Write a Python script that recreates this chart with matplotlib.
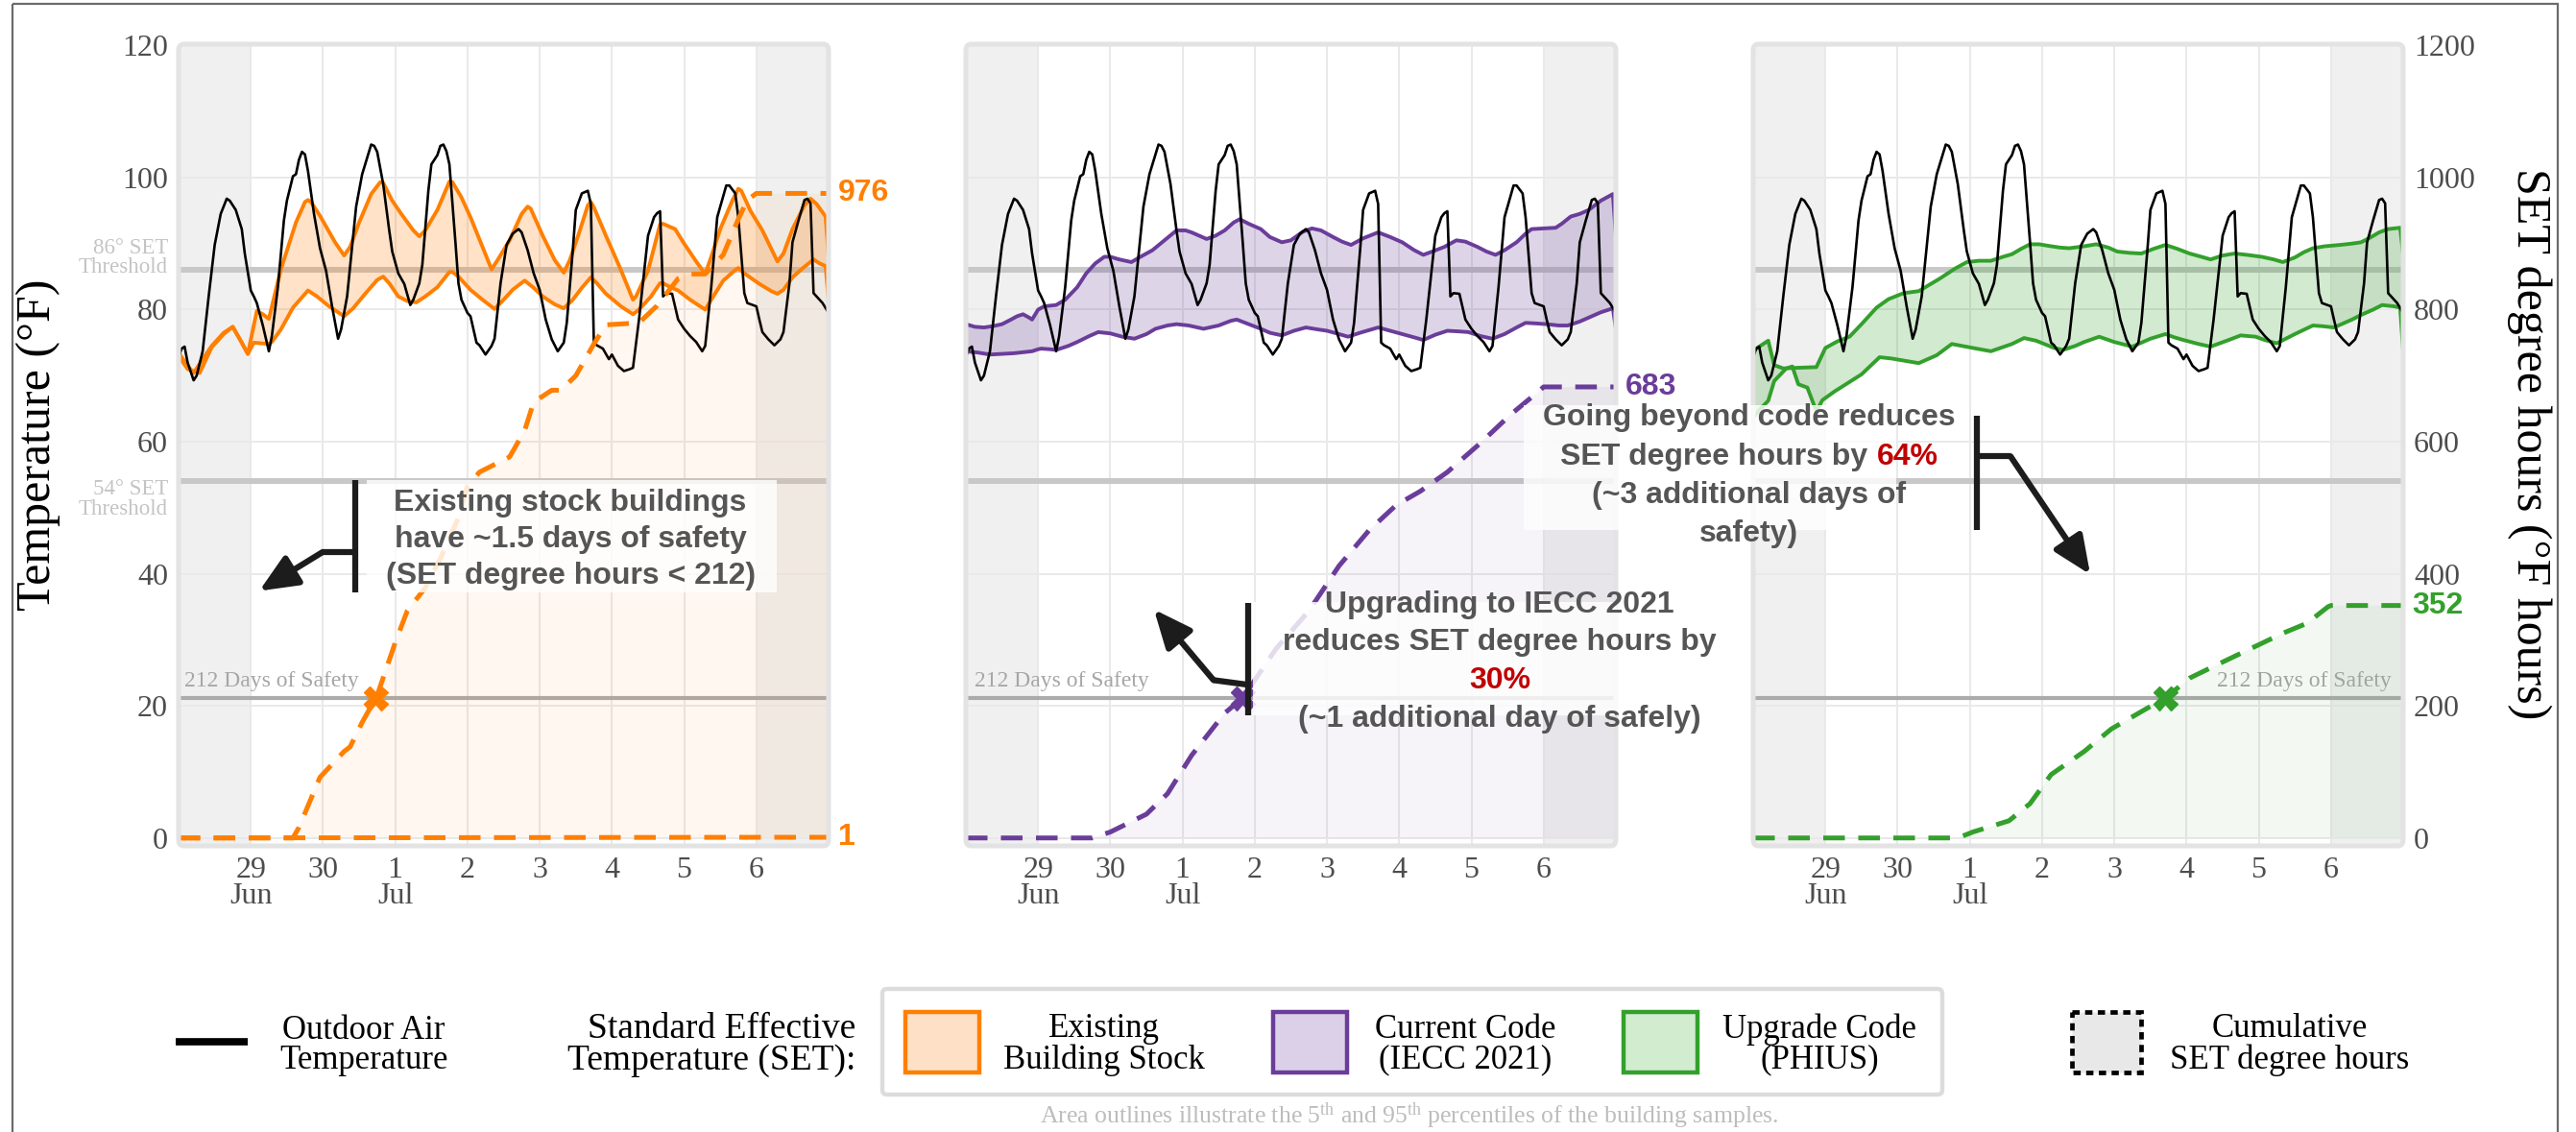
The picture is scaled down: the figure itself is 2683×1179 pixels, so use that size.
import numpy as np
import matplotlib
matplotlib.use("Agg")
import matplotlib.pyplot as plt
import matplotlib.transforms as mtransforms
from matplotlib.patches import FancyBboxPatch, Rectangle

plt.rcParams["font.family"] = ["Liberation Serif", "DejaVu Serif"]
plt.rcParams["mathtext.fontset"] = "custom"
plt.rcParams["mathtext.rm"] = "Liberation Serif"
plt.rcParams["mathtext.it"] = "Liberation Serif:italic"
plt.rcParams["mathtext.bf"] = "Liberation Serif:bold"
SANS = ["Liberation Sans", "DejaVu Sans"]

# ---------------------------------------------------------------- data
# hours counted from 28 Jun 00:00
DAY_TICK_HOURS = [24, 48, 72, 96, 120, 144, 168, 192]
DAY_TICK_LABELS = ["29\nJun", "30", "1\nJul", "2", "3", "4", "5", "6"]
TEMP_TICKS = [0, 20, 40, 60, 80, 100, 120]
SET_DH_TICKS = [0, 200, 400, 600, 800, 1000, 1200]
SHADED_SPANS = [(0, 24), (192, 216)]

SET_HIGH = 86          # upper SET threshold, deg F
SET_LOW = 54           # lower SET threshold, deg F
SAFETY_LIMIT = 212     # SET degree hours

OUTDOOR_HOURS = [0, 1, 2, 3, 5, 6, 8, 10, 12, 14, 16, 17, 19, 21, 22, 24, 25, 26, 28, 30,
                 31, 33, 35, 36, 38, 39, 40, 41, 42, 43, 45, 47, 49, 51, 53, 54, 56, 58, 59, 61,
                 62, 64, 65, 66, 68, 70, 71, 73, 75, 77, 78, 80, 81, 83, 84, 86, 87, 88, 89, 90,
                 92, 93, 94, 96, 97, 99, 100, 102, 104, 105, 107, 109, 111, 113, 114, 116, 118, 120, 122, 124,
                 126, 128, 129, 131, 132, 134, 136, 137, 138, 139, 141, 143, 144, 146, 148, 150, 151, 153, 155, 156,
                 158, 159, 160, 161, 162, 164, 166, 168, 170, 172, 174, 175, 177, 179, 180, 182, 183, 185, 186, 188,
                 189, 192, 193, 194, 196, 198, 200, 201, 203, 204, 206, 208, 209, 210, 211, 213, 214, 216]
OUTDOOR_TEMP = [72.8, 74.1, 74.4, 72.0, 69.3, 70.0, 73.7, 82.0, 89.8, 94.5, 96.8, 96.5, 95.1, 92.2, 88.5, 82.9, 82.0, 81.0, 77.6, 73.7,
                76.0, 83.4, 93.5, 96.5, 100.2, 100.5, 102.7, 103.9, 103.5, 101.0, 94.5, 89.3, 85.9, 80.5, 75.6, 77.0, 82.0, 91.0, 95.6, 100.5,
                102.0, 105.0, 104.8, 103.9, 99.0, 92.0, 88.8, 85.5, 83.9, 80.7, 81.5, 84.0, 86.8, 98.0, 102.0, 103.4, 104.8, 105.0, 104.0, 102.0,
                90.2, 84.0, 81.5, 79.5, 79.0, 75.0, 74.6, 73.2, 74.5, 75.6, 84.0, 89.8, 91.5, 92.2, 91.7, 89.0, 85.5, 83.0, 78.5, 75.5,
                73.7, 75.0, 78.0, 89.0, 95.1, 97.6, 98.0, 96.0, 75.0, 74.6, 74.1, 72.5, 73.2, 71.5, 70.7, 71.0, 71.2, 78.5, 87.0, 91.2,
                94.0, 94.6, 94.9, 82.0, 82.5, 82.4, 78.5, 77.1, 76.0, 75.1, 73.7, 74.5, 83.4, 94.0, 95.6, 98.8, 98.8, 97.6, 94.0, 82.5,
                81.0, 80.5, 78.5, 76.6, 75.5, 74.6, 75.5, 76.6, 84.0, 90.2, 93.5, 96.6, 96.8, 96.1, 82.5, 81.5, 81.0, 79.5]

# 95th / 5th percentile SET, existing building stock
EXISTING_UPPER_HOURS = [0, 3, 5, 8, 11, 15, 18, 21, 23, 26, 28, 30, 34, 39, 42, 43, 44, 47, 50, 52,
                        55, 57, 60, 64, 67, 68, 71, 74, 78, 80, 82, 86, 90, 91, 94, 97,
                        101, 104, 106, 110, 114, 116, 117, 121, 125, 128, 130, 133, 136, 137, 138, 142, 147, 151, 152, 156,
                        160, 161, 165, 168, 172, 175, 177, 180, 184, 186, 187, 190, 194, 199, 201, 204, 208, 210, 212, 215, 216]
EXISTING_UPPER = [73.5, 71.5, 70.4, 72.5, 74.5, 76.5, 77.4, 75.0, 73.3, 79.8, 79.3, 78.6, 86.1, 93.2, 96.3, 96.6, 96.3, 94.2, 91.8, 90.2,
                  88.2, 89.5, 93.2, 97.5, 99.3, 99.2, 96.5, 94.5, 92.0, 91.1, 92.0, 95.1, 99.4, 99.3, 97.0, 94.0,
                  89.5, 86.1, 87.5, 90.5, 94.5, 95.6, 95.3, 91.2, 87.5, 85.6, 87.5, 91.5, 95.8, 96.3, 95.5, 91.2, 86.0, 81.5, 82.0, 85.9,
                  92.9, 93.0, 92.2, 90.0, 87.3, 85.4, 88.0, 92.2, 96.5, 98.3, 98.0, 95.0, 92.0, 87.3, 88.5, 92.2, 95.8, 96.8, 96.0, 94.1, 88.0]
EXISTING_LOWER_HOURS = [0, 3, 7, 11, 15, 18, 21, 23, 25, 30, 31, 34, 38, 43, 46, 50, 55,
                        58, 62, 66, 68, 70, 73, 76, 79, 82, 86, 90, 91, 93, 97, 101, 105, 108, 111,
                        115, 118, 121, 125, 128, 131, 134, 137, 139, 142, 147, 151, 153, 157, 160, 161, 163, 166, 170, 175,
                        177, 181, 185, 186, 188, 193, 197, 199, 201, 204, 208, 211, 213, 215, 216]
EXISTING_LOWER = [73.0, 71.0, 70.4, 74.3, 76.3, 77.4, 75.0, 73.3, 75.0, 74.8, 75.1, 77.0, 80.3, 82.9, 82.0, 80.5, 79.0,
                  80.2, 82.4, 84.5, 85.0, 84.0, 82.0, 81.3, 81.1, 82.0, 83.4, 85.7, 85.7, 85.0, 83.0, 81.5, 80.1, 81.5, 83.0,
                  84.4, 83.3, 82.0, 80.8, 80.2, 81.5, 83.3, 84.9, 84.0, 82.4, 80.5, 79.3, 80.0, 82.0, 84.0, 84.0, 83.5, 82.9, 81.5, 80.0,
                  81.5, 84.4, 86.0, 86.3, 85.5, 83.9, 82.8, 82.4, 83.0, 84.9, 86.5, 87.6, 87.0, 86.6, 81.5]

# 95th / 5th percentile SET, current code (IECC 2021)
CURRENT_UPPER_HOURS = [0, 3, 6, 9, 12, 15, 17, 19, 21, 22, 24, 26, 30, 33, 37, 40, 43, 46, 48, 51,
                       55, 58, 62, 66, 70, 73, 75, 80, 83, 86, 89, 91, 94, 98, 101, 105, 108, 112, 115, 118,
                       122, 125, 128, 132, 137, 141, 145, 149, 152, 155, 159, 163, 166, 170, 173, 176, 179, 183, 186, 188,
                       192, 196, 198, 201, 204, 207, 211, 215, 216]
CURRENT_UPPER = [77.8, 77.4, 77.3, 77.5, 77.8, 78.5, 79.0, 79.3, 78.8, 78.5, 80.0, 80.5, 80.7, 81.5, 83.4, 85.5, 87.0, 88.0, 88.0, 87.6,
                 87.2, 88.0, 89.0, 90.5, 92.0, 92.0, 91.7, 90.7, 91.2, 92.0, 93.2, 93.7, 93.0, 92.2, 91.0, 90.2, 90.5, 91.8, 92.3, 92.0,
                 91.0, 90.3, 89.8, 90.8, 91.7, 91.0, 90.2, 89.0, 88.3, 88.8, 89.5, 90.5, 90.3, 89.5, 88.8, 88.3, 89.0, 90.2, 91.5, 92.2,
                 92.3, 92.4, 93.0, 94.1, 94.5, 95.1, 96.5, 97.5, 91.2]
CURRENT_LOWER_HOURS = [0, 4, 8, 12, 16, 20, 22, 24, 25, 28, 30, 34, 37, 41, 44, 48, 52, 56, 60, 63,
                       67, 70, 74, 79, 84, 88, 90, 94, 98, 101, 105, 109, 113, 117, 120, 124, 127, 131, 137, 141,
                       145, 149, 152, 156, 160, 164, 167, 171, 175, 179, 183, 186, 190, 193, 197, 200, 204, 207, 211, 215, 216]
CURRENT_LOWER = [73.7, 73.5, 73.2, 73.3, 73.4, 73.6, 73.7, 74.0, 74.1, 74.0, 73.9, 74.5, 75.1, 76.0, 76.6, 76.4, 75.9, 75.6, 76.3, 77.1,
                 77.6, 77.8, 77.6, 77.1, 77.6, 78.3, 78.5, 77.8, 77.1, 76.5, 76.1, 76.8, 77.3, 77.0, 76.8, 76.3, 75.9, 76.5, 77.3, 76.8,
                 76.3, 75.8, 75.4, 76.2, 76.8, 76.7, 76.6, 76.0, 75.6, 76.3, 77.3, 78.0, 77.9, 77.8, 77.6, 77.6, 78.2, 78.8, 79.6, 80.2, 77.1]

# 95th / 5th percentile SET, upgrade code (PHIUS)
UPGRADE_UPPER_HOURS = [0, 5, 7, 10, 15, 21, 24, 28, 32, 36, 41, 45, 50, 55, 62, 67, 71, 75, 79, 83,
                       86, 89, 92, 95, 99, 102, 105, 110, 114, 118, 121, 125, 129, 133,
                       137, 141, 145, 149, 152, 156, 160, 164, 169, 173, 176, 180, 183, 186, 190, 195, 199, 202, 205, 208,
                       211, 215, 216]
UPGRADE_UPPER = [73.8, 75.3, 71.6, 71.1, 71.2, 71.3, 74.2, 75.2, 75.9, 77.8, 80.3, 81.6, 82.5, 82.8, 84.7, 86.2, 87.2, 87.4, 87.4, 88.0,
                 88.4, 89.2, 89.9, 89.9, 89.6, 89.4, 89.3, 89.6, 89.9, 89.4, 88.8, 88.6, 88.5, 89.2,
                 89.8, 89.2, 88.5, 88.0, 87.6, 88.2, 88.5, 88.3, 88.0, 87.6, 87.2, 87.9, 88.7, 89.3, 89.6, 89.8, 90.0, 90.2, 90.9, 91.7,
                 92.2, 92.4, 88.3]
UPGRADE_LOWER_HOURS = [0, 2, 5, 7, 11, 13, 15, 18, 21, 23, 27, 36, 42, 46, 55, 61, 66, 73, 79, 86,
                       90, 94, 100, 103, 107, 110, 115, 120, 126, 129, 132,
                       137, 140, 143, 148, 152, 158, 162, 167, 170, 174, 177, 180, 186, 189, 193, 196, 199, 202, 206, 209,
                       213, 215, 216]
UPGRADE_LOWER = [63.6, 64.8, 66.2, 69.2, 71.1, 71.4, 68.7, 68.2, 64.6, 66.3, 67.6, 70.2, 72.8, 72.6, 71.9, 73.1, 74.8, 74.2, 73.7, 74.8,
                 75.7, 75.3, 74.2, 73.9, 74.5, 75.1, 75.9, 75.1, 74.4, 75.0, 75.6,
                 76.3, 75.8, 75.4, 74.8, 74.4, 75.4, 76.1, 75.9, 75.4, 74.9, 75.6, 76.3, 77.6, 77.5, 77.3, 77.9, 78.5, 79.2, 80.0, 80.7,
                 80.5, 80.3, 73.7]

# cumulative SET degree hours
CUM_EXISTING_HOURS = [0, 38, 40, 47, 55, 57, 61, 66, 72, 76, 82, 87, 93, 96, 100, 110, 115, 118, 124, 127,
                      132, 138, 142, 153, 159, 166, 170, 175, 181, 186, 189, 192, 216]
CUM_EXISTING = [0, 0, 16, 92, 131, 138, 175, 216, 296, 344, 379, 423, 485, 533, 554, 577, 617, 660, 678, 678,
                700, 748, 777, 780, 806, 847, 854, 854, 883, 937, 966, 976, 976]
CUM_EXISTING_LOW_HOURS = [0, 192, 216]
CUM_EXISTING_LOW = [0, 1, 1]
CUM_CURRENT_HOURS = [0, 42, 48, 60, 67, 75, 86, 92, 103, 114, 124, 134, 143, 151, 160, 171, 181, 190, 192, 216]
CUM_CURRENT = [0, 0, 9, 36, 67, 125, 189, 212, 286, 344, 412, 466, 504, 525, 554, 598, 641, 675, 683, 683]
CUM_UPGRADE_HOURS = [0, 68, 73, 85, 92, 99, 110, 119, 130, 137, 145, 154, 165, 176, 184, 191, 192, 216]
CUM_UPGRADE = [0, 0, 9, 26, 52, 96, 131, 165, 194, 212, 242, 262, 286, 310, 325, 350, 352, 352]

LEGEND_LABELS = ["Existing\nBuilding Stock", "Current Code\n(IECC 2021)", "Upgrade Code\n(PHIUS)"]

# ---------------------------------------------------------------- style
ORANGE = "#ff7f00"
PURPLE = "#6a3d9a"
GREEN = "#33a02c"
NOTE_GRAY = "#555555"
NOTE_RED = "#c00000"
TICK_GRAY = "#4d4d4d"
INK = "#1c1c1c"
TICK_SIZE = 23

FIG_W, FIG_H = 2683, 1179
PANEL_LEFTS = [186, 1006, 1826]
PANEL_WIDTH = 677
PANEL_TOP, PANEL_BOTTOM = 46, 881
HOUR_LIM = (0, 216)
TEMP_LIM = (-1.2, 120.2)
DH_LIM = (TEMP_LIM[0] * 10, TEMP_LIM[1] * 10)

fig = plt.figure(figsize=(FIG_W / 100, FIG_H / 100), dpi=100)
fig.patch.set_facecolor("white")


def px_rect(x0, y0, x1, y1):
    return [x0 / FIG_W, 1 - y1 / FIG_H, (x1 - x0) / FIG_W, (y1 - y0) / FIG_H]


# full-figure pixel canvas for frame, axis titles and legend
canvas = fig.add_axes([0, 0, 1, 1])
canvas.set_xlim(0, FIG_W)
canvas.set_ylim(FIG_H, 0)
canvas.axis("off")

scenarios = [
    dict(color=ORANGE,
         upper=(EXISTING_UPPER_HOURS, EXISTING_UPPER), lower=(EXISTING_LOWER_HOURS, EXISTING_LOWER),
         cum=[(CUM_EXISTING_HOURS, CUM_EXISTING), (CUM_EXISTING_LOW_HOURS, CUM_EXISTING_LOW)]),
    dict(color=PURPLE,
         upper=(CURRENT_UPPER_HOURS, CURRENT_UPPER), lower=(CURRENT_LOWER_HOURS, CURRENT_LOWER),
         cum=[(CUM_CURRENT_HOURS, CUM_CURRENT)]),
    dict(color=GREEN,
         upper=(UPGRADE_UPPER_HOURS, UPGRADE_UPPER), lower=(UPGRADE_LOWER_HOURS, UPGRADE_LOWER),
         cum=[(CUM_UPGRADE_HOURS, CUM_UPGRADE)]),
]

# annotation layout, in (hour, deg F) of each panel
NOTES = [
    dict(center=130.2, box=(62.5, 198.8, 37.2, 54.2),
         lines=[("Existing stock buildings", 49.5), ("have ~1.5 days of safety", 44.0),
                ("(SET degree hours < 212)", 38.5)],
         red_line=None, red_tail=None,
         bracket=[(58.7, 37.2), (58.7, 54.2)], elbow=[(58.7, 43.3), (47.9, 43.3)], tip=(26.8, 37.4)),
    dict(center=177.4, box=(95.4, 259.7, 18.6, 35.7),
         lines=[("Upgrading to IECC 2021", 34.1), ("reduces SET degree hours by", 28.5),
                ("30%", 22.7), ("(~1 additional day of safely)", 16.9)],
         red_line=2, red_tail=None,
         bracket=[(93.8, 18.6), (93.8, 35.6)], elbow=[(93.8, 23.2), (82.3, 23.9)], tip=(62.5, 34.6)),
    dict(center=-1.3, box=(-76.3, 47.5, 46.6, 65.5),
         lines=[("Going beyond code reduces", 62.5), ("SET degree hours by 64%", 56.5),
                ("(~3 additional days of", 50.7), ("safety)", 44.9)],
         red_line=None, red_tail=(1, "64%"),
         bracket=[(74.3, 46.6), (74.3, 63.9)], elbow=[(74.3, 57.8), (85.5, 57.8)], tip=(112.0, 39.9)),
]
SAFETY_LABEL_POS = [(2.0, "left"), (2.9, "left"), (212.2, "right")]
NOTE_FONT = dict(fontsize=23, fontweight="bold", family=SANS, zorder=9, clip_on=False)

renderer = fig.canvas.get_renderer()

for i, (left, sc, note) in enumerate(zip(PANEL_LEFTS, scenarios, NOTES)):
    c = sc["color"]
    ax = fig.add_axes(px_rect(left, PANEL_TOP, left + PANEL_WIDTH, PANEL_BOTTOM))
    ax.set_xlim(HOUR_LIM)
    ax.set_ylim(TEMP_LIM)
    ax.set_facecolor("white")
    for s in ax.spines.values():
        s.set_visible(False)
    for a, b in SHADED_SPANS:
        ax.axvspan(a, b, color="#f0f0f0", lw=0, zorder=0)
    ax.set_axisbelow(True)
    ax.grid(True, color="#e9e9e9", lw=1.4)

    ax.set_xticks(DAY_TICK_HOURS)
    ax.set_xticklabels(DAY_TICK_LABELS, fontsize=TICK_SIZE, color=TICK_GRAY, linespacing=0.92)
    ax.set_yticks(TEMP_TICKS)
    ax.tick_params(axis="both", length=0)
    ax.tick_params(axis="x", pad=8)
    if i == 0:
        ax.tick_params(axis="y", labelsize=TICK_SIZE, labelcolor=TICK_GRAY, pad=8)
    else:
        ax.set_yticklabels([])

    # SET thresholds
    ax.axhline(SET_HIGH, color="#c8c8c8", lw=4.3, zorder=1)
    ax.axhline(SET_LOW, color="#c8c8c8", lw=4.3, zorder=1)
    if i == 0:
        tr = mtransforms.blended_transform_factory(ax.transAxes, ax.transData)
        ax.text(-0.016, 87.8, "86\u00b0 SET\nThreshold", transform=tr, ha="right", va="center",
                ma="right", fontsize=16.5, color="#c4c4c4", linespacing=0.95)
        ax.text(-0.016, 51.3, "54\u00b0 SET\nThreshold", transform=tr, ha="right", va="center",
                ma="right", fontsize=16.5, color="#c4c4c4", linespacing=0.95)

    # 5th-95th percentile SET band
    uh, uv = np.asarray(sc["upper"][0], float), np.asarray(sc["upper"][1], float)
    lh, lv = np.asarray(sc["lower"][0], float), np.asarray(sc["lower"][1], float)
    ax.fill(np.concatenate([uh, lh[::-1]]), np.concatenate([uv, lv[::-1]]),
            color=c, alpha=0.22, lw=0, zorder=2)
    ax.plot(uh, uv, color=c, lw=2.8, zorder=3, solid_joinstyle="round")
    ax.plot(lh, lv, color=c, lw=2.8, zorder=3, solid_joinstyle="round")

    # outdoor air temperature
    ax.plot(OUTDOOR_HOURS, OUTDOOR_TEMP, color="black", lw=1.9, zorder=4)

    # cumulative SET degree hours on the secondary scale
    tw = ax.twinx()
    tw.set_ylim(DH_LIM)
    for s in tw.spines.values():
        s.set_visible(False)
    if i == 2:
        tw.set_yticks(SET_DH_TICKS)
        tw.tick_params(axis="y", length=0, labelsize=TICK_SIZE, labelcolor=TICK_GRAY, pad=8)
    else:
        tw.set_yticks([])

    tw.axhline(SAFETY_LIMIT, color="#ababab", lw=3.0, zorder=1)
    sx, sha = SAFETY_LABEL_POS[i]
    tw.text(sx, SAFETY_LIMIT + 10, "212 Days of Safety", ha=sha, va="bottom",
            fontsize=17, color="#a6a6a6", zorder=1)

    hi_h, hi_v = np.asarray(sc["cum"][0][0], float), np.asarray(sc["cum"][0][1], float)
    if len(sc["cum"]) > 1:
        lo_h, lo_v = np.asarray(sc["cum"][1][0], float), np.asarray(sc["cum"][1][1], float)
    else:
        lo_h, lo_v = np.array(HOUR_LIM, float), np.zeros(2)
    tw.fill(np.concatenate([hi_h, lo_h[::-1]]), np.concatenate([hi_v, lo_v[::-1]]),
            color=c, alpha=0.06, lw=0, zorder=2)
    for ch, cv in sc["cum"]:
        tw.plot(ch, cv, color=c, lw=3.6, ls=(0, (4.5, 2.8)), zorder=5)
        tw.annotate(f"{cv[-1]:.0f}", xy=(ch[-1], cv[-1]), xytext=(7, 0), textcoords="offset points",
                    ha="left", va="center", fontsize=23, fontweight="bold", color=c,
                    family=SANS, annotation_clip=False, zorder=6)
    cross_h = np.interp(SAFETY_LIMIT, hi_v, hi_h)
    tw.plot([cross_h], [SAFETY_LIMIT], marker="X", ms=18, color=c, mec=c, ls="none", zorder=6)

    # panel frame
    tw.add_patch(FancyBboxPatch((0, 0), 1, 1, boxstyle="round,pad=0,rounding_size=0.008",
                                transform=ax.transAxes, fill=False, ec="#e3e3e3", lw=3.6,
                                clip_on=False, zorder=7))

    # explanatory note
    x0, x1, y0, y1 = note["box"]
    tw.add_patch(Rectangle((x0, y0), x1 - x0, y1 - y0, transform=ax.transData, fc="white",
                           ec="none", alpha=0.82, clip_on=False, zorder=8))
    for k, (txt, ty) in enumerate(note["lines"]):
        col = NOTE_RED if note["red_line"] == k else NOTE_GRAY
        if note["red_tail"] is not None and note["red_tail"][0] == k:
            # line with a highlighted ending: measure the whole line, then draw both parts
            tail = note["red_tail"][1]
            probe = tw.text(note["center"], ty, txt, transform=ax.transData, ha="center",
                            va="baseline", **NOTE_FONT)
            bb = probe.get_window_extent(renderer)
            probe.remove()
            rtr = mtransforms.blended_transform_factory(mtransforms.IdentityTransform(), ax.transData)
            head = txt[: -len(tail)].rstrip()
            tw.text(bb.x0, ty, head, transform=rtr, ha="left", va="baseline", color=NOTE_GRAY, **NOTE_FONT)
            tw.text(bb.x1, ty, tail, transform=rtr, ha="right", va="baseline", color=NOTE_RED, **NOTE_FONT)
        else:
            tw.text(note["center"], ty, txt, transform=ax.transData, ha="center", va="baseline",
                    color=col, **NOTE_FONT)
    (bx0, by0), (bx1, by1) = note["bracket"]
    tw.plot([bx0, bx1], [by0, by1], transform=ax.transData, color=INK, lw=4.5,
            solid_capstyle="butt", zorder=11, clip_on=False)
    (ex0, ey0), (ex1, ey1) = note["elbow"]
    tw.plot([ex0, ex1], [ey0, ey1], transform=ax.transData, color=INK, lw=4.5,
            solid_capstyle="butt", zorder=11, clip_on=False)
    tw.annotate("", xy=note["tip"], xytext=(ex1, ey1), xycoords=ax.transData, textcoords=ax.transData,
                arrowprops=dict(arrowstyle="-|>,head_length=0.8,head_width=0.35", color=INK, lw=4.5,
                                mutation_scale=30, shrinkA=0, shrinkB=0),
                annotation_clip=False, zorder=11)

# ---------------------------------------------------------------- frame, titles, legend
canvas.add_patch(Rectangle((13, 4), FIG_W - 13 - 19, FIG_H + 20, fill=False, ec="#6b6b6b", lw=1.6))
canvas.text(40, 463, "Temperature (\u00b0F)", rotation=90, ha="center", va="center", fontsize=36)
canvas.text(2634, 462, "SET degree hours (\u00b0F hours)", rotation=270, ha="center", va="center", fontsize=36)

canvas.plot([183, 258], [1085, 1085], color="black", lw=5.5, solid_capstyle="butt")
canvas.text(379, 1089, "Outdoor Air\nTemperature", ha="center", va="center", ma="center",
            fontsize=25, linespacing=0.95)
canvas.text(891, 1088, "Standard Effective\nTemperature (SET):", ha="right", va="center", ma="right",
            fontsize=27, linespacing=0.95)
canvas.add_patch(FancyBboxPatch((919, 1030), 1104, 110, boxstyle="round,pad=0,rounding_size=5",
                                fc="white", ec="#dcdcdc", lw=3.2))
for x_patch, x_text, (fc, ec), label in zip(
        [943, 1326, 1691], [1150, 1526, 1895],
        [("#fde0c6", ORANGE), ("#dcd0e8", PURPLE), ("#d2ecd0", GREEN)], LEGEND_LABELS):
    canvas.add_patch(Rectangle((x_patch, 1054), 77, 63, fc=fc, ec=ec, lw=3.2))
    canvas.text(x_text, 1088, label, ha="center", va="center", ma="center", fontsize=25, linespacing=0.95)
canvas.add_patch(Rectangle((2158, 1054), 72, 63, fc="#e8e8e8", ec="black", lw=3.4, ls=(0, (1.6, 1.2))))
canvas.text(2385, 1088, "Cumulative\nSET degree hours", ha="center", va="center", ma="center",
            fontsize=25, linespacing=0.95)
canvas.text(1468, 1162, r"Area outlines illustrate the 5$^{\rm th}$ and 95$^{\rm th}$ percentiles of the building samples.",
            ha="center", va="center", fontsize=18.5, color="#bdbdbd")

fig.savefig("out.png", dpi=100, facecolor="white")
